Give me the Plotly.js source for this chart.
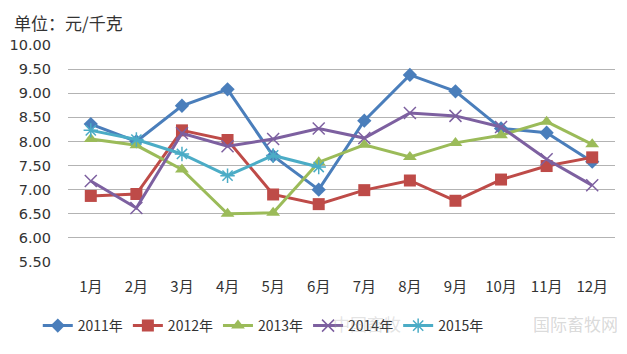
<!DOCTYPE html>
<html>
<head>
<meta charset="utf-8">
<script src="https://cdn.plot.ly/plotly-3.0.1.min.js"></script>
<style>html,body{margin:0;padding:0;background:#fff;}#chart{width:627px;height:354px;}</style>
</head>
<body>
<div id="chart"></div>
<script>
const months = ["1月","2月","3月","4月","5月","6月","7月","8月","9月","10月","11月","12月"];
const months2015 = ["1月","2月","3月","4月","5月","6月"];
const y2011 = [8.36, 8.00, 8.74, 9.08, 7.70, 7.00, 8.43, 9.38, 9.04, 8.27, 8.18, 7.58];
const y2012 = [6.87, 6.91, 8.23, 8.03, 6.90, 6.70, 6.99, 7.19, 6.77, 7.21, 7.49, 7.67];
const y2013 = [8.05, 7.92, 7.42, 6.50, 6.52, 7.57, 7.93, 7.68, 7.97, 8.13, 8.41, 7.94];
const y2014 = [7.18, 6.62, 8.17, 7.90, 8.05, 8.27, 8.07, 8.59, 8.53, 8.30, 7.63, 7.09];
const y2015 = [8.23, 8.04, 7.74, 7.29, 7.71, 7.47];
const seriesNames = ["2011年","2012年","2013年","2014年","2015年"];
const yTicks = [5.5, 6.0, 6.5, 7.0, 7.5, 8.0, 8.5, 9.0, 9.5, 10.0];

const colors = ["#4A7EBB", "#BE4B48", "#9BBB59", "#7D60A0", "#4BACC6"];
const font = "DejaVu Sans, sans-serif";
const cjk = "Noto Sans CJK SC, sans-serif";

const traces = [
  {x: months, y: y2011, name: seriesNames[0], mode: "lines+markers",
   line: {color: colors[0], width: 3},
   marker: {symbol: "diamond", size: 11, color: colors[0]}},
  {x: months, y: y2012, name: seriesNames[1], mode: "lines+markers",
   line: {color: colors[1], width: 3},
   marker: {symbol: "square", size: 12, color: colors[1]}},
  {x: months, y: y2013, name: seriesNames[2], mode: "lines+markers",
   line: {color: colors[2], width: 3},
   marker: {symbol: "triangle-up", size: 12, color: colors[2]}},
  {x: months, y: y2014, name: seriesNames[3], mode: "lines+markers",
   line: {color: colors[3], width: 3},
   marker: {symbol: "x-thin-open", size: 12, color: colors[3], line: {color: colors[3], width: 1.5}}},
  {x: months2015, y: y2015, name: seriesNames[4], mode: "lines+markers",
   line: {color: colors[4], width: 3},
   marker: {symbol: "asterisk-open", size: 12, color: colors[4], line: {color: colors[4], width: 1.5}}}
];

const layout = {
  width: 627, height: 354,
  margin: {l: 68, r: 12, t: 45, b: 89},
  paper_bgcolor: "#ffffff", plot_bgcolor: "#ffffff",
  font: {family: cjk, size: 14, color: "#333333"},
  showlegend: true,
  legend: {orientation: "h", x: 0.357, xanchor: "center", y: -0.295, yanchor: "middle",
           font: {family: cjk, size: 14, color: "#333333"}, itemwidth: 30, tracegroupgap: 0},
  xaxis: {type: "category", categoryarray: months, categoryorder: "array",
          range: [-0.5, 11.5], showgrid: false, zeroline: false, showline: false,
          ticks: "", ticklabelstandoff: 14, tickfont: {family: cjk, size: 15, color: "#333333"}},
  yaxis: {range: [5.5, 10.0], tickvals: yTicks, ticktext: yTicks.map(v => v.toFixed(2)),
          showgrid: true, gridcolor: "#b3b3b3", gridwidth: 1, zeroline: false, showline: false,
          ticks: "", ticklabelstandoff: 16, tickfont: {family: font, size: 14.5, color: "#333333"}},
  annotations: [
    {text: "单位：元/千克", xref: "paper", yref: "paper", x: -0.102, y: 1.105, xanchor: "left", yanchor: "middle",
     showarrow: false, font: {family: cjk, size: 17, color: "#333333"}},
    {text: "中国畜牧", xref: "paper", yref: "paper", x: 0.48, y: -0.285, xanchor: "left", yanchor: "middle",
     showarrow: false, font: {family: cjk, size: 17, color: "rgba(160,160,160,0.3)"}},
    {text: "国际畜牧网", xref: "paper", yref: "paper", x: 1.01, y: -0.285, xanchor: "right", yanchor: "middle",
     showarrow: false, font: {family: cjk, size: 17, color: "rgba(160,160,160,0.4)"}}
  ]
};

Plotly.newPlot("chart", traces, layout, {displayModeBar: false, staticPlot: true});
</script>
</body>
</html>
